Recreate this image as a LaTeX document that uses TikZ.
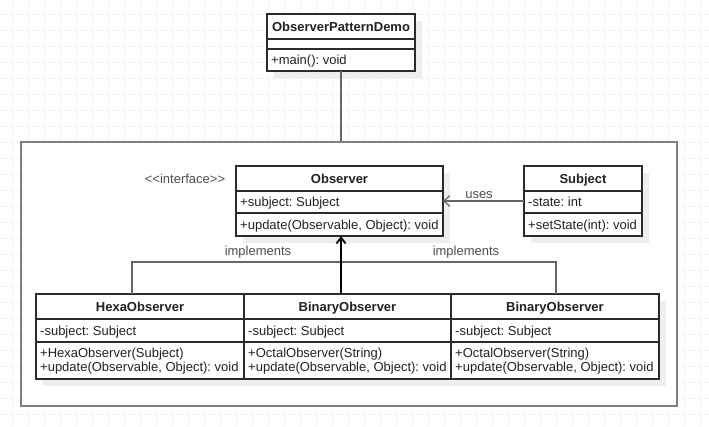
\documentclass[tikz,border=0pt]{standalone}
\usepackage{fontspec}
\setmainfont[Ligatures=NoCommon]{Liberation Sans}
\usetikzlibrary{arrows.meta,calc,shadows}
\definecolor{gridc}{HTML}{F2F2F2}
\definecolor{shad}{HTML}{EEEEEE}
\definecolor{bord}{HTML}{2B2B2B}
\definecolor{contc}{HTML}{808080}
\definecolor{connc}{HTML}{666666}
\definecolor{txtc}{HTML}{222222}
\frenchspacing
\begin{document}
\begin{tikzpicture}[x=1pt,y=-1pt,font=\fontsize{13}{15}\selectfont\frenchspacing,
  cls/.style={draw=bord,line width=1.2pt,fill=white,anchor=north west,inner sep=0pt,outer sep=0pt,
    drop shadow={shadow xshift=7pt,shadow yshift=-7pt,fill=shad,opacity=1}},
  sep/.style={draw=bord,line width=1.2pt},
  hdr/.style={font=\fontsize{13}{15}\selectfont\bfseries,text=txtc,inner sep=0pt,anchor=base},
  txt/.style={anchor=base west,text=txtc,inner sep=0pt},
  lbl/.style={text=txtc!80,inner sep=0pt,anchor=base},
  connline/.style={draw=connc,line width=1.4pt},
]
\useasboundingbox (0,0) rectangle (709,426);
% grid
\foreach \x in {12,28,...,708} \draw[gridc,line width=0.8pt] (\x,0) -- (\x,426);
\foreach \y in {14,30,...,426} \draw[gridc,line width=0.8pt] (0,\y) -- (709,\y);

% container
\node[draw=contc,line width=2pt,fill=white,anchor=north west,inner sep=0pt,minimum width=656pt,minimum height=264pt] (pkg) at (20,141) {};

% ObserverPatternDemo
\node[cls,minimum width=148pt,minimum height=57pt] (demo) at (267,14) {};
\draw[sep] (demo.west |- 0,39) -- (demo.east |- 0,39);
\draw[sep] (demo.west |- 0,49) -- (demo.east |- 0,49);
\node[hdr] (demoT) at (341,31.3) {ObserverPatternDemo};
\node[txt] (demoM) at (271,64.8) {+main(): void};
\draw[connline] (demo.south) -- (demo.south |- pkg.north);

% Observer
\node[lbl] (iface) at (185,183.6) {{<}{<}interface{>}{>}};
\node[cls,minimum width=207pt,minimum height=70pt] (obs) at (236,166) {};
\draw[sep] (obs.west |- 0,191) -- (obs.east |- 0,191);
\draw[sep] (obs.west |- 0,213) -- (obs.east |- 0,213);
\node[hdr] (obsT) at (339.5,183.3) {Observer};
\node[txt] (obsA) at (240,206.8) {+subject: Subject};
\node[txt] (obsM) at (240,229.3) {+update(Observable, Object): void};

% Subject
\node[cls,minimum width=118pt,minimum height=70pt] (subj) at (524,166) {};
\draw[sep] (subj.west |- 0,191) -- (subj.east |- 0,191);
\draw[sep] (subj.west |- 0,213) -- (subj.east |- 0,213);
\node[hdr] (subjT) at (583,183.3) {Subject};
\node[txt] (subjA) at (528,206.8) {-state: int};
\node[txt] (subjM) at (528,229.3) {+setState(int): void};

% bottom classes
\node[cls,minimum width=208pt,minimum height=85pt] (hexa) at (36,294) {};
\node[cls,minimum width=207pt,minimum height=85pt] (bin) at (244,294) {};
\node[cls,minimum width=208pt,minimum height=85pt] (bin2) at (451,294) {};
\foreach \n in {hexa,bin,bin2} {
  \draw[sep] (\n.west |- 0,319) -- (\n.east |- 0,319);
  \draw[sep] (\n.west |- 0,342) -- (\n.east |- 0,342);
}
\draw[sep] (bin.north west) -- (bin.south west);
\draw[sep] (bin2.north west) -- (bin2.south west);
\node[hdr] (hexaT) at (140,311.3) {HexaObserver};
\node[txt] (hexaA) at (40,335.3) {-subject: Subject};
\node[txt] (hexaM1) at (40,357.5) {+HexaObserver(Subject)};
\node[txt] (hexaM2) at (40,371.8) {+update(Observable, Object): void};
\node[hdr] (binT) at (347.5,311.3) {BinaryObserver};
\node[txt] (binA) at (248,335.3) {-subject: Subject};
\node[txt] (binM1) at (248,357.5) {+OctalObserver(String)};
\node[txt] (binM2) at (248,371.8) {+update(Observable, Object): void};
\node[hdr] (bin2T) at (555,311.3) {BinaryObserver};
\node[txt] (bin2A) at (455,335.3) {-subject: Subject};
\node[txt] (bin2M1) at (455,357.5) {+OctalObserver(String)};
\node[txt] (bin2M2) at (455,371.8) {+update(Observable, Object): void};

% uses
\draw[connline,-{Straight Barb[length=6pt,width=11pt,line width=1.2pt]}] (subj.west) -- (obs.east);
\node[lbl] (usesL) at (479,198.5) {uses};

% implements
\coordinate (jn) at (341,262);
\draw[connline] ([xshift=-8pt]hexa.north) |- (jn);
\draw[connline] ([xshift=1pt]bin2.north) |- (jn);
\draw[draw=black,line width=2pt,-{Straight Barb[length=6pt,width=9pt,line width=1.8pt]}] (bin.north -| jn) -- (obs.south -| jn);
\node[lbl] (impl1) at (258,255.5) {implements};
\node[lbl] (impl2) at (466,255.5) {implements};
\end{tikzpicture}
\end{document}
